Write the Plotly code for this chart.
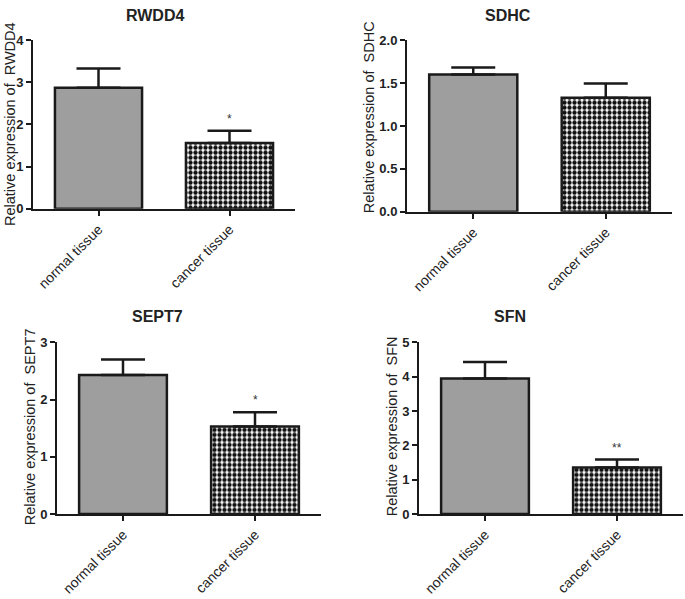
import plotly.graph_objects as go

W, H = 685, 599

categories = ["normal tissue", "cancer tissue"]

genes = ["RWDD4", "SDHC", "SEPT7", "SFN"]
means = {
    "RWDD4": [2.87, 1.56],
    "SDHC": [1.60, 1.33],
    "SEPT7": [2.43, 1.53],
    "SFN": [3.95, 1.355],
}
sems = {
    "RWDD4": [0.46, 0.29],
    "SDHC": [0.08, 0.165],
    "SEPT7": [0.27, 0.25],
    "SFN": [0.48, 0.23],
}
stars = {
    "RWDD4": ["", "*"],
    "SDHC": ["", ""],
    "SEPT7": ["", "*"],
    "SFN": ["", "**"],
}
y_ranges = {"RWDD4": [0, 4], "SDHC": [0, 2], "SEPT7": [0, 3], "SFN": [0, 5]}
y_dticks = {"RWDD4": 1, "SDHC": 0.5, "SEPT7": 1, "SFN": 1}
y_formats = {"RWDD4": "d", "SDHC": ".1f", "SEPT7": "d", "SFN": "d"}

# panel geometry in pixels: x-left, x-right, y-bottom(0), y-top
geom = {
    "RWDD4": (33, 295, 207, 34),
    "SDHC": (407, 672, 210, 34),
    "SEPT7": (57, 321, 520, 344),
    "SFN": (419, 683, 520, 344),
}
# title and y-label positions (px)
title_pos = {"RWDD4": (155, 9), "SDHC": (508, 9), "SEPT7": (157, 317), "SFN": (510, 317)}
ylab_pos = {"RWDD4": (10, 120), "SDHC": (369, 113), "SEPT7": (30, 431), "SFN": (392, 430)}

FONT = "Arial, Liberation Sans, sans-serif"

fig = go.Figure()
layout = dict(
    width=W, height=H,
    margin=dict(l=0, r=0, t=0, b=0),
    paper_bgcolor="white", plot_bgcolor="white",
    showlegend=False,
    font=dict(family=FONT, color="#222"),
    annotations=[],
)

for i, g in enumerate(genes, start=1):
    xl, xr, yb, yt = geom[g]
    xs = "" if i == 1 else str(i)
    fig.add_trace(go.Bar(
        x=categories, y=means[g],
        xaxis="x" + xs, yaxis="y" + xs,
        width=0.665,
        marker=dict(
            color="white",
            line=dict(color="#1a1a1a", width=2.5),
            pattern=dict(
                shape=[".", "."],
                size=[2, 5],
                solidity=[0.5, 0.6],
                fgcolor=["#222222", "#111111"],
                bgcolor=["white", "white"],
                fillmode="replace",
            ),
        ),
        error_y=dict(
            type="data", symmetric=False,
            array=sems[g], arrayminus=[0, 0],
            color="#1a1a1a", thickness=2.5, width=22,
        ),
        hoverinfo="skip",
    ))
    layout["xaxis" + xs] = dict(
        domain=[xl / W, xr / W],
        anchor="y" + xs,
        type="category",
        range=[-0.5, 1.5],
        showline=True, linecolor="#1a1a1a", linewidth=2,
        ticks="outside", ticklen=5, tickwidth=2, tickcolor="#1a1a1a",
        tickangle=-45,
        tickfont=dict(family=FONT, size=14, color="#222"),
        showgrid=False, zeroline=False, fixedrange=True,
    )
    layout["yaxis" + xs] = dict(
        domain=[1 - yb / H, 1 - yt / H],
        anchor="x" + xs,
        range=y_ranges[g],
        dtick=y_dticks[g], tick0=0,
        tickformat=y_formats[g],
        showline=True, linecolor="#1a1a1a", linewidth=2,
        ticks="outside", ticklen=5, tickwidth=2, tickcolor="#1a1a1a",
        tickfont=dict(family=FONT, size=13, color="#222", weight="bold"),
        showgrid=False, zeroline=False, fixedrange=True,
    )
    tx, ty = title_pos[g]
    layout["annotations"].append(dict(
        text="<b>" + g + "</b>", xref="paper", yref="paper",
        x=tx / W, y=1 - ty / H, xanchor="center", yanchor="middle",
        showarrow=False, font=dict(family=FONT, size=16, color="#222"),
    ))
    lx, ly = ylab_pos[g]
    layout["annotations"].append(dict(
        text="Relative expression of  " + g, xref="paper", yref="paper",
        x=lx / W, y=1 - ly / H, xanchor="center", yanchor="middle",
        textangle=-90, showarrow=False,
        font=dict(family=FONT, size=14.5, color="#222"),
    ))
    for c, m, e, s in zip(categories, means[g], sems[g], stars[g]):
        if s:
            layout["annotations"].append(dict(
                text=s, xref="x" + xs, yref="y" + xs,
                x=c, y=m + e, xanchor="center", yanchor="bottom",
                yshift=3, showarrow=False,
                font=dict(family=FONT, size=12, color="#333"),
            ))

fig.update_layout(**layout)
fig.write_html(
    "out.html",
    config={"displayModeBar": False, "staticPlot": True},
    post_script="document.body.style.margin='0';document.body.style.overflow='hidden';",
)
